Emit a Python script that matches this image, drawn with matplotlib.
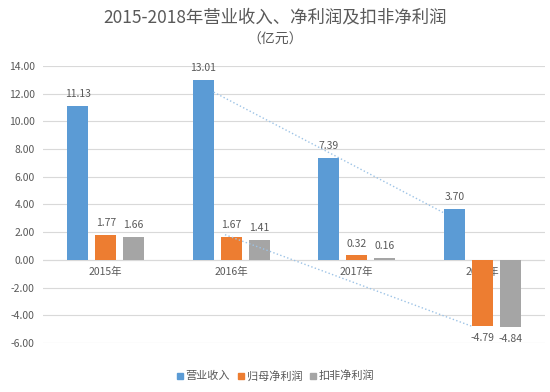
import numpy as np
import matplotlib.pyplot as plt
from matplotlib.lines import Line2D

plt.rcParams["font.family"] = ["Noto Sans CJK SC", "DejaVu Sans"]

years = ["2015年", "2016年", "2017年", "2018年"]
revenue = [11.13, 13.01, 7.39, 3.70]
net_profit = [1.77, 1.67, 0.32, -4.79]
deducted_profit = [1.66, 1.41, 0.16, -4.84]
series_names = ["营业收入", "归母净利润", "扣非净利润"]
colors = ["#5B9BD5", "#ED7D31", "#A5A5A5"]
yticks = np.arange(-6, 15, 2)

text_c = "#595959"
fig = plt.figure(figsize=(5.5, 3.92), dpi=100)
ax = fig.add_axes([43/550, 49/392, 502/550, 277/392])

x = np.arange(len(years)) + 0.5
width = 0.167
step = 0.223
series = [revenue, net_profit, deducted_profit]
for k, (vals, c) in enumerate(zip(series, colors)):
    xs = x + (k - 1) * step
    ax.bar(xs, vals, width=width, color=c, zorder=3, label=series_names[k])
    for xi, v in zip(xs, vals):
        if v >= 0:
            ax.text(xi, v + 0.5, f"{v:.2f}", ha="center", va="bottom", fontsize=7.5, color=text_c, zorder=4)
        else:
            ax.text(xi, v - 0.5, f"{v:.2f}", ha="center", va="top", fontsize=7.5, color=text_c, zorder=4)

for xi, lab in zip(x, years):
    ax.text(xi, -0.85, lab, ha="center", va="center", fontsize=7.5, color=text_c, zorder=1)

# dotted trend lines
x_rev = x - step
ax.plot([x_rev[1] + width / 2, x_rev[3] - width / 2], [revenue[1] - 0.9, revenue[3] - 0.3],
        ls=":", color="#9DC3E6", lw=1.0, zorder=5)
ax.plot([x[1] - 0.05, x[3] - width / 2], [net_profit[1] + 0.15, net_profit[3]],
        ls=":", color="#9DC3E6", lw=1.0, zorder=5)

ax.set_xlim(0, 4)
ax.set_ylim(-6, 14)
ax.set_yticks(yticks)
ax.set_yticklabels([f"{t:.2f}" for t in yticks], fontsize=7.5, color=text_c)
ax.set_xticks([])
ax.tick_params(axis="y", length=0, pad=6)
ax.grid(axis="y", color="#D9D9D9", lw=0.8, zorder=0)
ax.axhline(0, color="#D9D9D9", lw=0.8, zorder=2)
for s in ax.spines.values():
    s.set_visible(False)

fig.text(0.5, 1 - 17/392, "2015-2018年营业收入、净利润及扣非净利润", ha="center", va="center",
         fontsize=12.5, color=text_c)
fig.text(0.5, 1 - 40/392, "（亿元）", ha="center", va="center", fontsize=10, color=text_c)

handles = [Line2D([], [], marker="s", ls="", color=c, markersize=5) for c in colors]
fig.legend(handles, series_names, loc="center", bbox_to_anchor=(275/550, 1 - 376/392), ncol=3,
           frameon=False, fontsize=8, handletextpad=0.1, columnspacing=0.6, labelcolor=text_c,
           handlelength=0.8)

fig.savefig("out.png", dpi=100)
